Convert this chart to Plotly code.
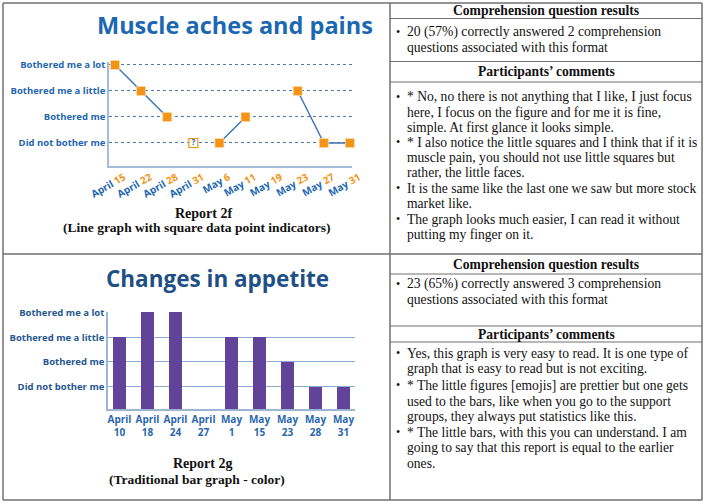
import plotly.graph_objects as go

W, H = 704, 504

# ---------------- data ----------------
levels = ["Did not bother me", "Bothered me", "Bothered me a little", "Bothered me a lot"]
level_scores = [1, 2, 3, 4]

muscle_dates = ["April 15", "April 22", "April 28", "April 31", "May 6",
                "May 11", "May 19", "May 23", "May 27", "May 31"]
muscle_scores = [4, 3, 2, None, 1, 2, None, 3, 1, 1]
unknown_dates = ["April 31"]
unknown_scores = [1]

appetite_dates = ["April 10", "April 18", "April 24", "April 27", "May 1",
                  "May 15", "May 23", "May 28", "May 31"]
appetite_scores = [3, 4, 4, None, 3, 3, 2, 1, 1]

# ---------------- helpers ----------------
def px(x):
    return x / W

def py(y):
    return 1 - y / H

BLUE = "#2366B0"
ORANGE = "#F39416"
PURPLE = "#61449A"
SERIF = "Liberation Serif"
SANS = "Open Sans"

fig = go.Figure()

# Chart 1: line graph with square markers
fig.add_trace(go.Scatter(
    x=muscle_dates, y=muscle_scores, mode="lines+markers",
    line=dict(color="#3B72B5", width=1.4), connectgaps=False,
    marker=dict(symbol="square", size=9, color=ORANGE,
                line=dict(color="#FBD9A8", width=0.8)),
    xaxis="x", yaxis="y", showlegend=False, cliponaxis=False))
fig.add_trace(go.Scatter(
    x=unknown_dates, y=unknown_scores, mode="markers+text",
    text=["<b>?</b>"], textposition="middle center",
    textfont=dict(family=SANS, size=8, color=BLUE),
    marker=dict(symbol="square", size=9, color="white",
                line=dict(color=ORANGE, width=1.2)),
    xaxis="x", yaxis="y", showlegend=False, cliponaxis=False))

# Chart 2: bars
fig.add_trace(go.Bar(
    x=appetite_dates, y=appetite_scores, marker=dict(color=PURPLE, line=dict(width=0)),
    width=0.46, xaxis="x2", yaxis="y2", showlegend=False))

def split_label(d):
    m, n = d.split(" ")
    return m, n

tick1 = []
for d in muscle_dates:
    m, n = split_label(d)
    tick1.append(f"<b><span style='color:{BLUE}'>{m}</span> <span style='color:{ORANGE}'>{n}</span></b>")
tick2 = []
for d in appetite_dates:
    m, n = split_label(d)
    tick2.append(f"<b>{m}<br>{n}</b>")

ylab1 = [f"<b>{l}</b>" for l in levels]

fig.update_layout(
    width=W, height=H, margin=dict(l=0, r=0, t=0, b=0, autoexpand=False),
    paper_bgcolor="white", plot_bgcolor="rgba(0,0,0,0)",
    bargap=0,
    xaxis=dict(domain=[px(109), px(352)], anchor="y", type="category",
               range=[-0.23, 9.08], tickvals=muscle_dates, ticktext=tick1,
               tickangle=-30, tickfont=dict(family=SANS, size=10),
               showline=True, linecolor="#A5BCD8", linewidth=1.5, automargin=False,
               showgrid=False, zeroline=False, ticks="", ticklabelshift=9),
    yaxis=dict(domain=[py(166), py(62)], anchor="x", range=[0.115, 4.115],
               tickvals=level_scores, ticktext=ylab1, automargin=False,
               tickfont=dict(family=SANS, size=9.5, color=BLUE),
               showline=True, linecolor="#A5BCD8", linewidth=1.5,
               showgrid=True, gridcolor="#4F78B0", griddash="dot", gridwidth=1.2,
               zeroline=False, ticks=""),
    xaxis2=dict(domain=[px(108), px(355)], anchor="y2", type="category",
                range=[-0.41, 8.41], tickvals=appetite_dates, ticktext=tick2,
                tickfont=dict(family=SANS, size=10, color="#2A67AE"), automargin=False,
                showline=True, linecolor="#9EB4D3", linewidth=1.5,
                showgrid=False, zeroline=False, ticks=""),
    yaxis2=dict(domain=[py(409), py(312)], anchor="x2", range=[0.1, 4.02],
                tickvals=level_scores, ticktext=ylab1, automargin=False,
                tickfont=dict(family=SANS, size=9.5, color="#25568F"),
                showline=True, linecolor="#9EB4D3", linewidth=1.5,
                showgrid=True, gridcolor="#8AA9D3", gridwidth=1,
                zeroline=False, ticks=""),
)

ann = []
def text(x, y, s, size=13.6, color="#111111", family=SERIF, xanchor="center", bold=False):
    if bold:
        s = f"<b>{s}</b>"
    ann.append(dict(x=px(x), y=py(y), xref="paper", yref="paper", text=s,
                    showarrow=False, xanchor=xanchor, yanchor="middle",
                    font=dict(family=family, size=size, color=color), borderpad=0))

# chart titles
text(235, 25, "Muscle aches and pains", size=23.5, color="#1B67B2", family=SANS, bold=True)
text(217, 278, "Changes in appetite", size=22.5, color="#1E4F85", family=SANS, bold=True)

# captions
text(203, 213, "Report 2f", size=14, bold=True)
text(197, 228, "(Line graph with square data point indicators)", size=13.5, bold=True)
text(203, 463, "Report 2g", size=14, bold=True)
text(197, 479, "(Traditional bar graph - color)", size=13.5, bold=True)

# right column headers
text(546, 10, "Comprehension question results", bold=True)
text(546, 72, "Participants’ comments", bold=True)
text(546, 264, "Comprehension question results", bold=True)
text(546, 334, "Participants’ comments", bold=True)

BX, TX = 398, 406
def block(lines):
    for s, y, b in lines:
        if b:
            text(BX, y, "•", xanchor="center", size=12)
        text(TX, y, s, xanchor="left")

block([
    ("20 (57%) correctly answered 2 comprehension", 32, True),
    ("questions associated with this format", 47, False),
    ("* No, no there is not anything that I like, I just focus", 97, True),
    ("here, I focus on the figure and for me it is fine,", 112, False),
    ("simple. At first glance it looks simple.", 127, False),
    ("* I also notice the little squares and I think that if it is", 142, True),
    ("muscle pain, you should not use little squares but", 157, False),
    ("rather, the little faces.", 172, False),
    ("It is the same like the last one we saw but more stock", 188, True),
    ("market like.", 203, False),
    ("The graph looks much easier, I can read it without", 219, True),
    ("putting my finger on it.", 234, False),
    ("23 (65%) correctly answered 3 comprehension", 284, True),
    ("questions associated with this format", 299, False),
    ("Yes, this graph is very easy to read. It is one type of", 353, True),
    ("graph that is easy to read but is not exciting.", 368, False),
    ("* The little figures [emojis] are prettier but one gets", 385, True),
    ("used to the bars, like when you go to the support", 401, False),
    ("groups, they always put statistics like this.", 416, False),
    ("* The little bars, with this you can understand. I am", 432, True),
    ("going to say that this report is equal to the earlier", 447, False),
    ("ones.", 463, False),
])

fig.update_layout(annotations=ann)

# table borders
shapes = []
def hline(x0, x1, y, w=1.2):
    shapes.append(dict(type="line", xref="paper", yref="paper", x0=px(x0), x1=px(x1),
                       y0=py(y), y1=py(y), line=dict(color="#707070", width=w)))
def vline(x, y0, y1, w=1.2):
    shapes.append(dict(type="line", xref="paper", yref="paper", x0=px(x), x1=px(x),
                       y0=py(y0), y1=py(y1), line=dict(color="#707070", width=w)))

hline(3, 702, 3, 1.5)
hline(3, 702, 500, 1.5)
vline(3, 3, 500, 1.5)
vline(702, 3, 500, 1.5)
vline(390, 3, 500, 1.5)
hline(3, 702, 254, 1.5)
for y in [18.5, 61.5, 82, 274, 326, 342]:
    hline(390, 702, y)
fig.update_layout(shapes=shapes)

fig.write_html("out.html", config={"displayModeBar": False},
               post_script="document.body.style.margin='0';")
